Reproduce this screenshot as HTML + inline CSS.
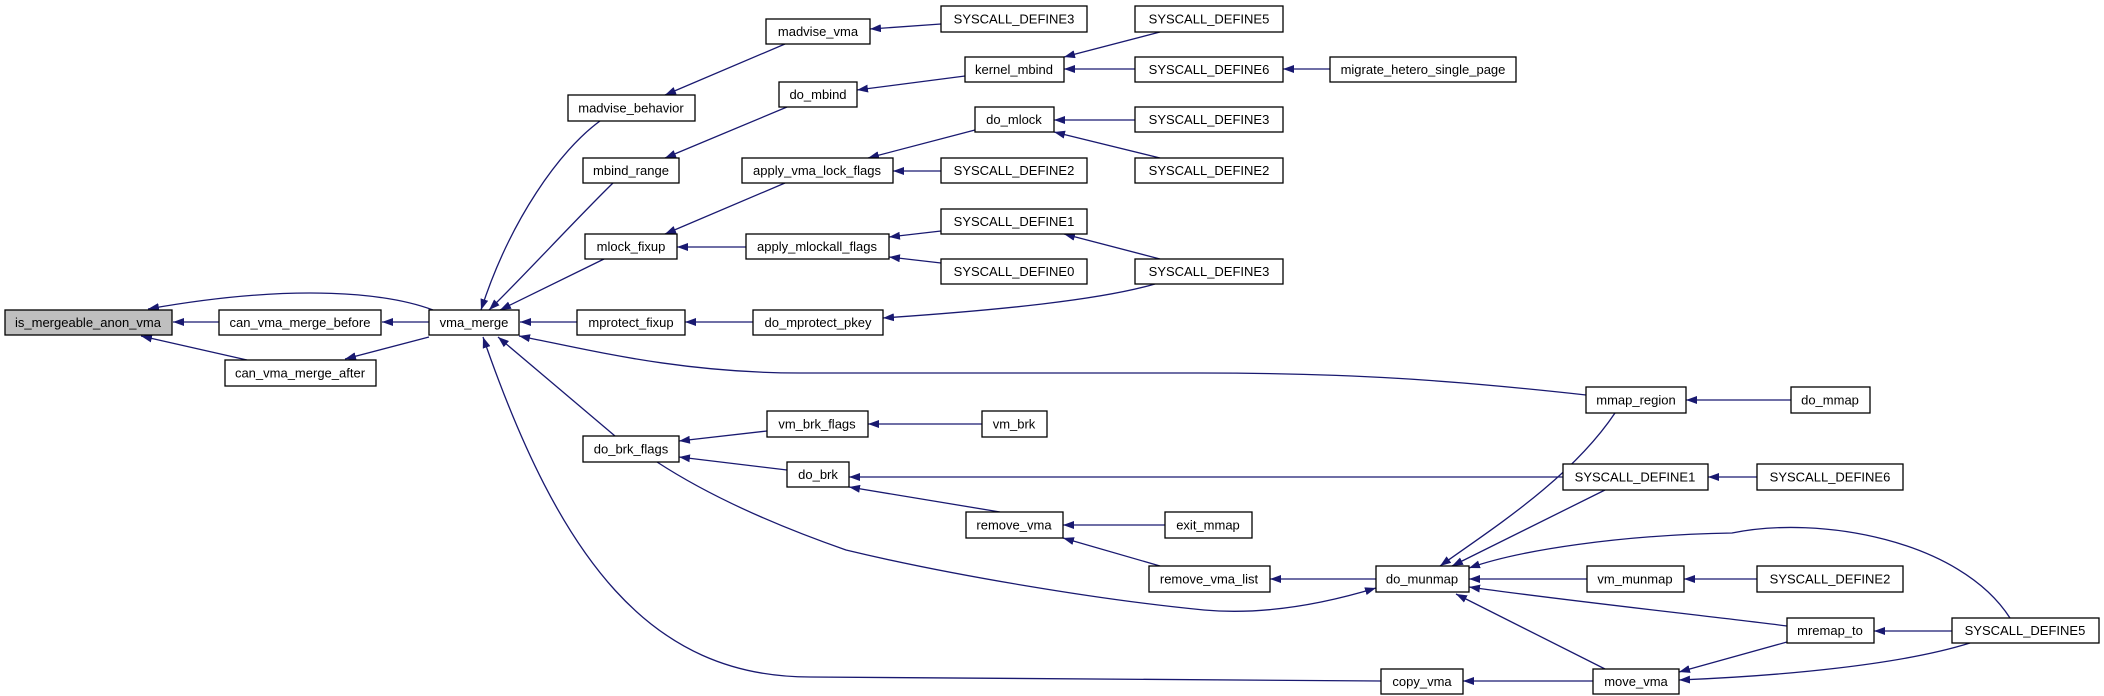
<!DOCTYPE html>
<html><head><meta charset="utf-8"><style>
html,body{margin:0;padding:0;background:#fff;width:2104px;height:696px;overflow:hidden}
svg{display:block}
text{font-family:"Liberation Sans",sans-serif;font-size:13px;fill:#000;text-anchor:middle;dominant-baseline:central}
.n{fill:#fff;stroke:#000;stroke-width:1.3}
.e{fill:none;stroke:#191970;stroke-width:1.3;marker-end:url(#a)}
</style></head><body>
<svg width="2104" height="696" viewBox="0 0 2104 696" xmlns="http://www.w3.org/2000/svg">
<defs><marker id="a" viewBox="0 0 11 8" refX="11" refY="4" markerWidth="11" markerHeight="8" markerUnits="userSpaceOnUse" orient="auto"><path d="M0,0L11,4L0,8z" fill="#191970"/></marker></defs>
<g>
<path class="e" d="M219,322L173,322"/>
<path class="e" d="M247,360L141,336"/>
<path class="e" d="M433,310C390,294 300,282 148,309"/>
<path class="e" d="M429,322L382,322"/>
<path class="e" d="M429,337L345,359"/>
<path class="e" d="M600,121C560,150 510,220 481,310"/>
<path class="e" d="M613,183C580,215 520,280 489,310"/>
<path class="e" d="M604,259L500,310"/>
<path class="e" d="M577,322L520,322"/>
<path class="e" d="M615,436L498,337"/>
<path class="e" d="M1381,681L810,677C650,677 560,560 483,337"/>
<path class="e" d="M1586,395C1450,380 1350,373 1200,373L800,373C680,373 590,350 519,336"/>
<path class="e" d="M785,44L665,95"/>
<path class="e" d="M941,24L870,29"/>
<path class="e" d="M787,107L665,158"/>
<path class="e" d="M965,76L857,90"/>
<path class="e" d="M1160,32L1064,57"/>
<path class="e" d="M1135,69L1064,69"/>
<path class="e" d="M1330,69L1283,69"/>
<path class="e" d="M785,183L665,234"/>
<path class="e" d="M746,247L677,247"/>
<path class="e" d="M975,130L868,158"/>
<path class="e" d="M941,171L893,171"/>
<path class="e" d="M1135,120L1054,120"/>
<path class="e" d="M1160,158L1054,132"/>
<path class="e" d="M941,231L889,237"/>
<path class="e" d="M941,263L889,257"/>
<path class="e" d="M1160,259L1064,234"/>
<path class="e" d="M753,322L685,322"/>
<path class="e" d="M1155,284C1100,300 1000,310 883,318"/>
<path class="e" d="M767,431L679,441"/>
<path class="e" d="M982,424L868,424"/>
<path class="e" d="M787,470L679,457"/>
<path class="e" d="M657,462C700,490 760,520 846,550C950,575 1100,600 1204,610C1260,615 1320,605 1376,588"/>
<path class="e" d="M1563,477L849,477"/>
<path class="e" d="M1000,512L849,487"/>
<path class="e" d="M1165,525L1063,525"/>
<path class="e" d="M1160,566L1063,538"/>
<path class="e" d="M1376,579L1270,579"/>
<path class="e" d="M1791,400L1686,400"/>
<path class="e" d="M1615,413C1570,480 1490,530 1440,566"/>
<path class="e" d="M1605,490L1452,566"/>
<path class="e" d="M2010,618C1960,540 1820,515 1732,533C1620,535 1520,550 1469,568"/>
<path class="e" d="M1587,579L1469,579"/>
<path class="e" d="M1787,626C1700,615 1560,600 1469,587"/>
<path class="e" d="M1605,669L1456,594"/>
<path class="e" d="M1757,477L1708,477"/>
<path class="e" d="M1757,579L1684,579"/>
<path class="e" d="M1952,631L1874,631"/>
<path class="e" d="M1787,642L1679,672"/>
<path class="e" d="M1970,643C1900,665 1780,676 1679,680"/>
<path class="e" d="M1593,681L1463,681"/>
</g>
<g>
<rect x="5" y="310" width="167" height="25" fill="#bfbfbf" stroke="#000" stroke-width="1.3"/><text x="88" y="322.5">is_mergeable_anon_vma</text>
<rect class="n" x="219" y="310" width="162" height="25"/><text x="300" y="322.5">can_vma_merge_before</text>
<rect class="n" x="225" y="360" width="151" height="26"/><text x="300" y="373">can_vma_merge_after</text>
<rect class="n" x="429" y="310" width="90" height="25"/><text x="474" y="322.5">vma_merge</text>
<rect class="n" x="568" y="95" width="127" height="26"/><text x="631" y="108">madvise_behavior</text>
<rect class="n" x="583" y="158" width="96" height="25"/><text x="631" y="170.5">mbind_range</text>
<rect class="n" x="585" y="234" width="92" height="25"/><text x="631" y="246.5">mlock_fixup</text>
<rect class="n" x="577" y="310" width="108" height="25"/><text x="631" y="322.5">mprotect_fixup</text>
<rect class="n" x="583" y="436" width="96" height="26"/><text x="631" y="449">do_brk_flags</text>
<rect class="n" x="766" y="19" width="104" height="25"/><text x="818" y="31.5">madvise_vma</text>
<rect class="n" x="779" y="82" width="78" height="25"/><text x="818" y="94.5">do_mbind</text>
<rect class="n" x="742" y="158" width="151" height="25"/><text x="817" y="170.5">apply_vma_lock_flags</text>
<rect class="n" x="746" y="234" width="143" height="25"/><text x="817" y="246.5">apply_mlockall_flags</text>
<rect class="n" x="753" y="310" width="130" height="25"/><text x="818" y="322.5">do_mprotect_pkey</text>
<rect class="n" x="767" y="411" width="101" height="26"/><text x="817" y="424">vm_brk_flags</text>
<rect class="n" x="787" y="462" width="62" height="25"/><text x="818" y="474.5">do_brk</text>
<rect class="n" x="941" y="6" width="146" height="26"/><text x="1014" y="19">SYSCALL_DEFINE3</text>
<rect class="n" x="965" y="57" width="99" height="25"/><text x="1014" y="69.5">kernel_mbind</text>
<rect class="n" x="975" y="107" width="79" height="25"/><text x="1014" y="119.5">do_mlock</text>
<rect class="n" x="941" y="158" width="146" height="25"/><text x="1014" y="170.5">SYSCALL_DEFINE2</text>
<rect class="n" x="941" y="209" width="146" height="25"/><text x="1014" y="221.5">SYSCALL_DEFINE1</text>
<rect class="n" x="941" y="259" width="146" height="25"/><text x="1014" y="271.5">SYSCALL_DEFINE0</text>
<rect class="n" x="982" y="411" width="65" height="26"/><text x="1014" y="424">vm_brk</text>
<rect class="n" x="966" y="512" width="97" height="26"/><text x="1014" y="525">remove_vma</text>
<rect class="n" x="1135" y="6" width="148" height="26"/><text x="1209" y="19">SYSCALL_DEFINE5</text>
<rect class="n" x="1135" y="57" width="148" height="25"/><text x="1209" y="69.5">SYSCALL_DEFINE6</text>
<rect class="n" x="1135" y="107" width="148" height="25"/><text x="1209" y="119.5">SYSCALL_DEFINE3</text>
<rect class="n" x="1135" y="158" width="148" height="25"/><text x="1209" y="170.5">SYSCALL_DEFINE2</text>
<rect class="n" x="1135" y="259" width="148" height="25"/><text x="1209" y="271.5">SYSCALL_DEFINE3</text>
<rect class="n" x="1165" y="512" width="87" height="26"/><text x="1208" y="525">exit_mmap</text>
<rect class="n" x="1149" y="566" width="121" height="26"/><text x="1209" y="579">remove_vma_list</text>
<rect class="n" x="1330" y="57" width="186" height="25"/><text x="1423" y="69.5">migrate_hetero_single_page</text>
<rect class="n" x="1376" y="566" width="93" height="26"/><text x="1422" y="579">do_munmap</text>
<rect class="n" x="1381" y="669" width="82" height="25"/><text x="1422" y="681.5">copy_vma</text>
<rect class="n" x="1586" y="387" width="100" height="26"/><text x="1636" y="400">mmap_region</text>
<rect class="n" x="1563" y="464" width="145" height="26"/><text x="1635" y="477">SYSCALL_DEFINE1</text>
<rect class="n" x="1587" y="566" width="97" height="26"/><text x="1635" y="579">vm_munmap</text>
<rect class="n" x="1593" y="669" width="86" height="25"/><text x="1636" y="681.5">move_vma</text>
<rect class="n" x="1791" y="387" width="79" height="26"/><text x="1830" y="400">do_mmap</text>
<rect class="n" x="1757" y="464" width="146" height="26"/><text x="1830" y="477">SYSCALL_DEFINE6</text>
<rect class="n" x="1757" y="566" width="146" height="26"/><text x="1830" y="579">SYSCALL_DEFINE2</text>
<rect class="n" x="1787" y="618" width="87" height="25"/><text x="1830" y="630.5">mremap_to</text>
<rect class="n" x="1952" y="618" width="147" height="25"/><text x="2025" y="630.5">SYSCALL_DEFINE5</text>
</g>
</svg>
</body></html>
